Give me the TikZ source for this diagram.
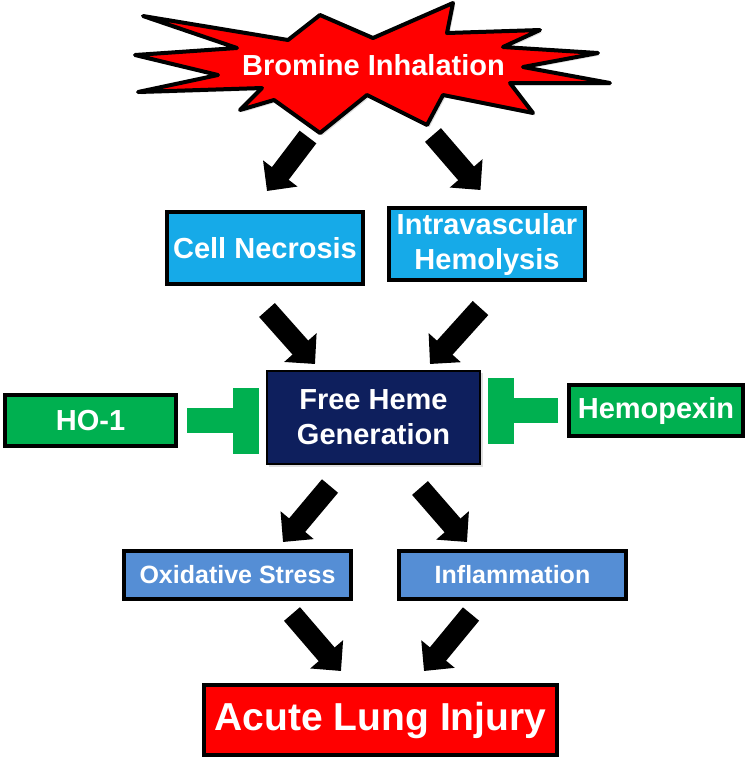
\documentclass[tikz,border=0pt]{standalone}
\usepackage{fontspec}
\setmainfont{Liberation Sans}
\usetikzlibrary{
  arrows.meta,
  positioning,  % right=of ...
  shadows,      % drop shadow
}
\definecolor{burstred}{RGB}{255,0,0}
\definecolor{causeblue}{RGB}{22,170,232}
\definecolor{hemenavy}{RGB}{14,31,93}
\definecolor{guardgreen}{RGB}{0,176,80}
\definecolor{effectblue}{RGB}{85,142,213}
\def\mybig{\fontsize{14.5}{17.5}\selectfont}
\def\mymid{\fontsize{12.5}{15}\selectfont}
\def\myhuge{\fontsize{19.5}{23}\selectfont}
\tikzset{
  font=\bfseries,
  my shadow/.style={
    drop shadow={opacity=0.25,shadow xshift=1.2pt,shadow yshift=-1.2pt}
  },
  my box/.style={
    draw,
    line width=2pt,
    text=white,
    align=center,
    inner sep=0pt,
    rectangle,
    my shadow
  },
  cause box/.style={
    my box,
    fill=causeblue,
    font=\mybig\bfseries,
    minimum width=98pt,
    minimum height=36pt
  },
  heme box/.style={
    my box,
    line width=0.8pt,
    fill=hemenavy,
    font=\mybig\bfseries,
    minimum width=106.7pt,
    minimum height=46.7pt
  },
  guard box/.style={
    my box,
    fill=guardgreen,
    font=\mybig\bfseries,
    minimum height=25.5pt
  },
  effect box/.style={
    my box,
    fill=effectblue,
    font=\mymid\bfseries,
    minimum width=113.5pt,
    minimum height=24pt
  },
  injury box/.style={
    my box,
    fill=burstred,
    font=\myhuge\bfseries,
    minimum width=176.5pt,
    minimum height=35pt
  },
  burst/.style={
    draw,
    fill=burstred,
    line width=2pt,
    line join=round,
    my shadow
  },
  fat arrow/.style={
    line width=10.5pt,
    -{Triangle[width=21pt,length=11pt]}
  },
  blocker/.style={
    draw=guardgreen,
    line width=12.5pt,
    -{Rectangle[width=33pt,length=13pt]}
  }
}

\begin{document}
\begin{tikzpicture}[x=0.5pt,y=-0.5pt]
\useasboundingbox (0,0) rectangle (748,768);
% starburst
\draw[burst] (143,16) -- (288,40) -- (320,15) -- (373,38) -- (453,3)
  -- (447,33) -- (540,30) -- (503,47) -- (598,53) -- (523,67)
  -- (610,83) -- (510,83) -- (533,113) -- (443,95) -- (427,125)
  -- (367,95) -- (320,133) -- (274,100) -- (240,110) -- (262,88)
  -- (138,92) -- (218,75) -- (135,55) -- (237,48) -- cycle;
\node[text=white,font=\mybig\bfseries] (burst) at (373.5,65) {Bromine Inhalation};

\node[cause box]                          (necro) at (265,248)  {Cell Necrosis};
\node[cause box,right=11pt of necro,yshift=2pt] (lysis) {Intravascular\\Hemolysis};
\node[heme box]                           (heme)  at (373.5,417.5) {Free Heme\\Generation};
\node[guard box,minimum width=85.5pt,left=44pt of heme,yshift=-1.5pt] (hoone) {HO-1};
\node[guard box,minimum width=87pt,right=43pt of heme,yshift=3.5pt]   (hopx)  {Hemopexin};
\node[effect box]                         (oxid)  at (237.5,575) {Oxidative Stress};
\node[effect box,right=22pt of oxid]      (inflam) {Inflammation};
\node[injury box]                         (ali)   at (380.5,720) {Acute Lung Injury};

\path[fat arrow]
  ([shift={(-65.5,72)}]burst.center) edge ([shift={(2,-19)}]necro.north)
  ([shift={(59.5,70)}]burst.center)  edge ([shift={(-6.5,-16)}]lysis.north)
  ([shift={(2,24)}]necro.south)      edge ([shift={(-58.5,-6)}]heme.north)
  ([shift={(-6.5,26)}]lysis.south)   edge ([shift={(56.5,-6)}]heme.north)
  ([shift={(-43.5,21)}]heme.south)   edge ([shift={(45.5,-7)}]oxid.north)
  ([shift={(46.5,23)}]heme.south)    edge ([shift={(-45.5,-7)}]inflam.north)
  ([shift={(54.5,13)}]oxid.south)    edge ([shift={(-39.5,-12)}]ali.north)
  ([shift={(-41.5,13)}]inflam.south) edge ([shift={(43.5,-12)}]ali.north);

\draw[blocker] ([xshift=4.5pt]hoone.east) -- ([xshift=-3.5pt]heme.west |- hoone.east);
\draw[blocker] ([xshift=-4.5pt]hopx.west) -- ([xshift=3.5pt]heme.east |- hopx.west);
\end{tikzpicture}
\end{document}
